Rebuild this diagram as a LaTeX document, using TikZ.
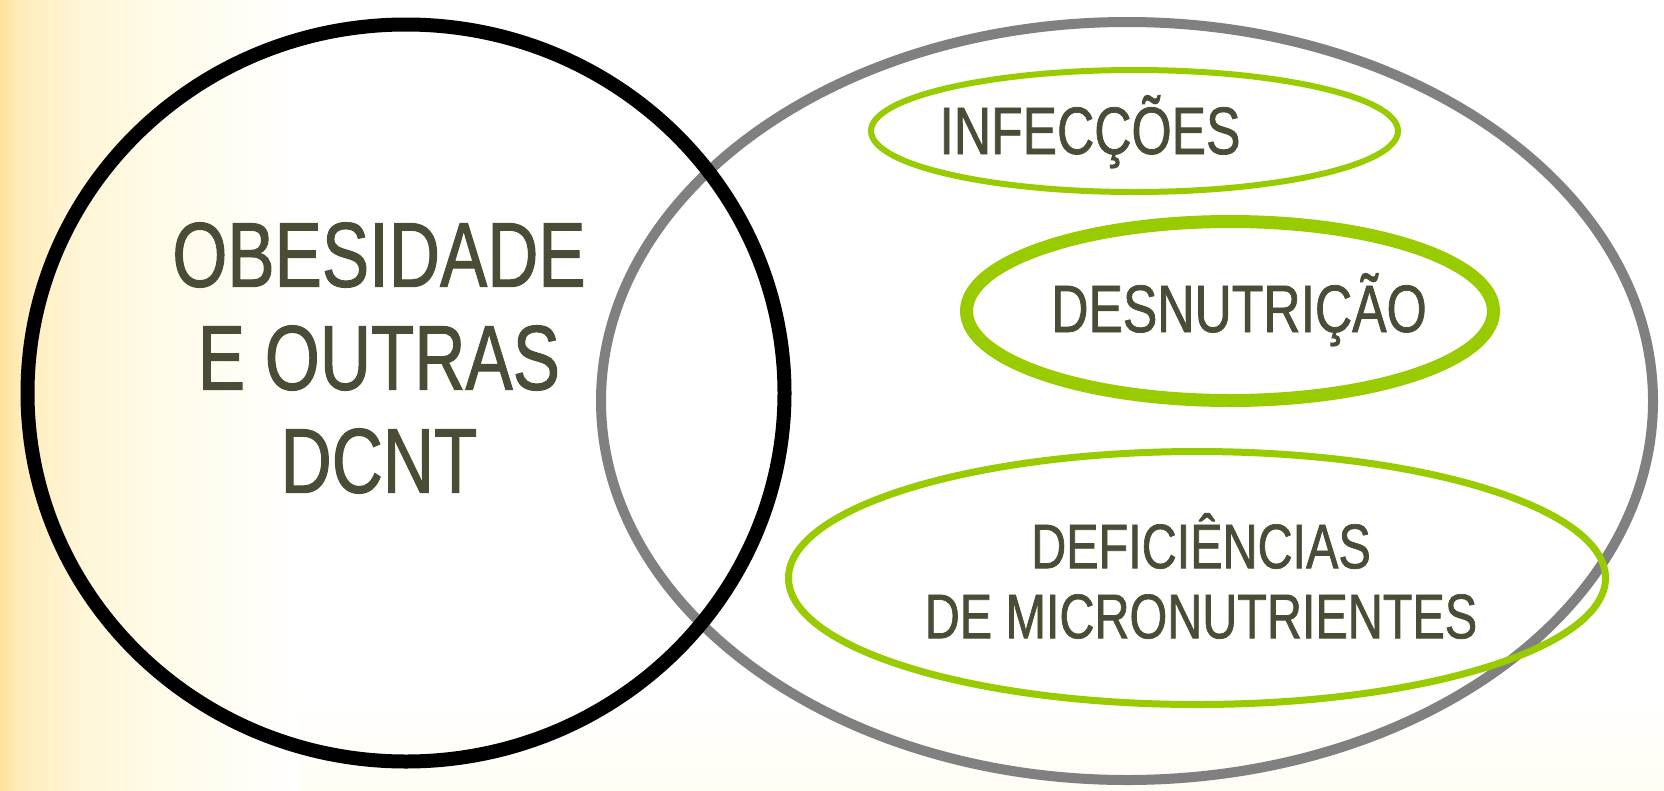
\documentclass[tikz,border=0pt]{standalone}
\usepackage{fontspec}
\setmainfont{Liberation Sans}[FakeStretch=0.77, FakeBold=1.1]
\usetikzlibrary{shapes.geometric}
\definecolor{txt}{RGB}{74,76,54}
\definecolor{lime}{RGB}{153,204,0}
\definecolor{grayring}{RGB}{128,128,128}
\definecolor{bg0}{RGB}{255,226,155}
\definecolor{bg1}{RGB}{255,235,182}
\definecolor{bg2}{RGB}{255,245,212}
\definecolor{bg3}{RGB}{255,251,232}
\definecolor{bg4}{RGB}{255,253,244}
\tikzset{
  ring/.style={ellipse, inner sep=0pt, outer sep=0pt},
  bigtxt/.style={text=txt, font=\fontsize{92}{103}\selectfont, align=center, inner sep=0pt},
  midtxt/.style={text=txt, font=\fontsize{67}{70}\selectfont, align=center, inner sep=0pt},
  smltxt/.style={text=txt, font=\fontsize{63}{70}\selectfont, align=center, inner sep=0pt},
}
\begin{document}
\begin{tikzpicture}[x=1pt,y=-1pt]
\useasboundingbox (0,0) rectangle (1664,790);
% background
\fill[white] (0,0) rectangle (1664,790);
\fill[bottom color=bg4, top color=white] (0,690) rectangle (1664,790);
\fill[left color=bg0, right color=bg1] (0,0) rectangle (16,790);
\fill[left color=bg1, right color=bg2] (15.5,0) rectangle (70,790);
\fill[left color=bg2, right color=bg3] (69.5,0) rectangle (160,790);
\fill[left color=bg3, right color=white] (159.5,0) rectangle (300,790);
% rings
\node[ring, draw=grayring, line width=10pt, minimum width=1052, minimum height=758] (out) at (1127,401) {};
\node[ring, draw=black, line width=14pt, minimum width=757, minimum height=737] (obe) at (406,393) {};
\node[ring, draw=lime, line width=6pt, minimum width=527, minimum height=122] (inf) at (1134.5,131) {};
\node[ring, draw=lime, line width=13pt, minimum width=527, minimum height=179] (des) at (1230,311) {};
\node[ring, draw=lime, line width=7pt, minimum width=817, minimum height=253] (def) at (1197,578) {};
% texts
\node[bigtxt] (tobe) at (379,358) {OBESIDADE\\E OUTRAS\\DCNT};
\node[midtxt, anchor=base] (tinf) at (1090,154) {INFECÇÕES};
\node[midtxt, anchor=base] (tdes) at (1239,332) {DESNUTRIÇÃO};
\node[smltxt] (tdef) at (1201,576) {DEFICIÊNCIAS\\DE MICRONUTRIENTES};
\end{tikzpicture}
\end{document}
